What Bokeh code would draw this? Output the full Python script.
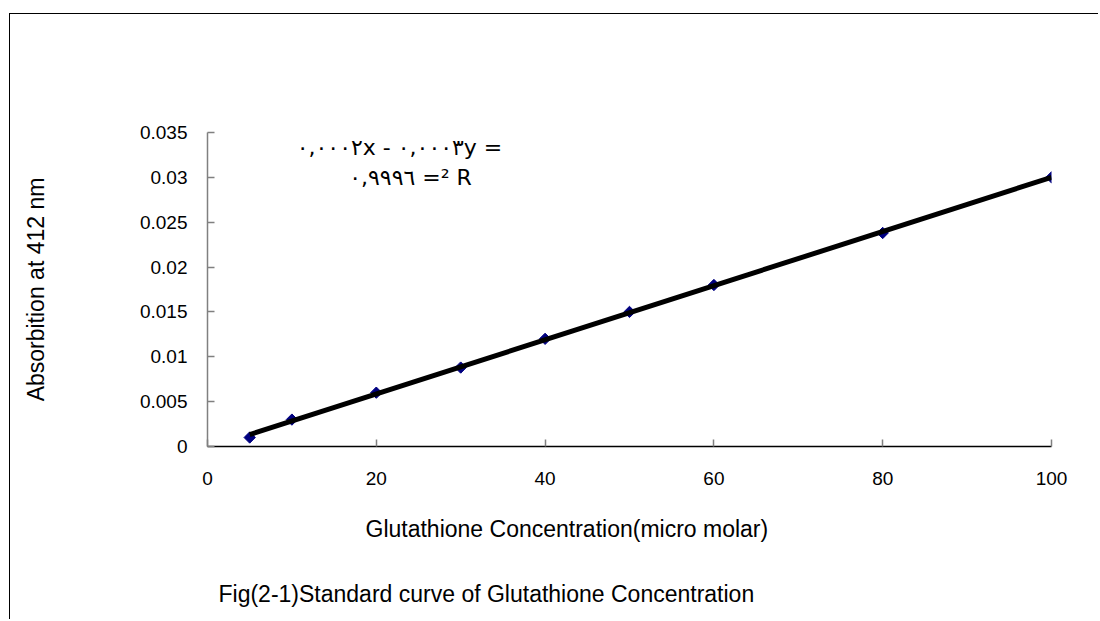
import numpy as np
from bokeh.plotting import figure
from bokeh.models import Range1d, FixedTicker, Label, Title
from bokeh.embed import file_html
from bokeh.resources import INLINE

# ---- data ----
concentration = [5, 10, 20, 30, 40, 50, 60, 80, 100]
absorbance = [0.001, 0.003, 0.006, 0.0088, 0.012, 0.015, 0.018, 0.0238, 0.030]
x_ticks = [0, 20, 40, 60, 80, 100]
y_ticks = [0, 0.005, 0.01, 0.015, 0.02, 0.025, 0.03, 0.035]
y_tick_labels = ["0", "0.005", "0.01", "0.015", "0.02", "0.025", "0.03", "0.035"]
equation_line1 = "٠,٠٠٠٢x - ٠,٠٠٠٣y ="
equation_line2 = "٠,٩٩٩٦ =² R"
x_title = "Glutathione Concentration(micro molar)"
y_title = "Absorbition at 412 nm"
caption = "Fig(2-1)Standard curve of Glutathione Concentration"

FONT = "Liberation Sans"
FS_TICK = "19px"
FS_TITLE = "23px"

p = figure(width=1089, height=606, output_backend="svg", toolbar_location=None,
           x_range=Range1d(0, 100), y_range=Range1d(0, 0.035),
           min_border_left=197, min_border_right=48, min_border_top=118,
           min_border_bottom=174,
           styles={"margin-left": "9px", "margin-top": "13px",
                   "border-left": "1.5px solid black",
                   "border-top": "1.5px solid black"})
p.outline_line_color = None
p.background_fill_color = "white"
p.border_fill_color = "white"
p.xgrid.visible = False
p.ygrid.visible = False

for ax in (p.xaxis[0], p.yaxis[0]):
    ax.major_label_text_font = FONT
    ax.major_label_text_font_size = FS_TICK
    ax.major_label_text_color = "black"
    ax.major_tick_in = 7
    ax.major_tick_out = 0
    ax.minor_tick_line_color = None
    ax.major_tick_line_color = "#808080"
    ax.major_tick_line_width = 1.5

p.xaxis[0].ticker = FixedTicker(ticks=x_ticks)
p.xaxis[0].axis_line_color = "black"
p.xaxis[0].axis_line_width = 1.5
p.xaxis[0].major_label_standoff = 25

p.yaxis[0].ticker = FixedTicker(ticks=y_ticks)
p.yaxis[0].major_label_overrides = {t: s for t, s in zip(y_ticks, y_tick_labels)}
p.yaxis[0].axis_line_color = "#808080"
p.yaxis[0].axis_line_width = 1.5
p.yaxis[0].major_label_standoff = 20
p.yaxis[0].axis_label = y_title
p.yaxis[0].axis_label_text_font = FONT
p.yaxis[0].axis_label_text_font_size = FS_TITLE
p.yaxis[0].axis_label_text_font_style = "normal"
p.yaxis[0].axis_label_text_color = "black"
p.yaxis[0].axis_label_standoff = 88

# titles below the x axis
p.add_layout(Title(text=x_title, align="left", offset=158, standoff=56,
                   vertical_align="top",
                   text_font=FONT, text_font_size=FS_TITLE, text_font_style="normal",
                   text_color="black"), "below")
p.add_layout(Title(text=caption, align="left", offset=11, standoff=19,
                   vertical_align="top",
                   text_font=FONT, text_font_size=FS_TITLE, text_font_style="normal",
                   text_color="black"), "below")

# data points (diamonds)
p.scatter(concentration, absorbance, marker="square", angle=np.pi / 4, size=8,
          fill_color="#000080", line_color="#000080")

# linear trendline fitted to the data
slope, intercept = np.polyfit(concentration, absorbance, 1)
tx = [min(concentration), max(concentration)]
ty = [slope * v + intercept for v in tx]
p.line(tx, ty, line_color="black", line_width=5)

def lab(text, x, y):
    p.add_layout(Label(x=x, y=y, x_units="screen", y_units="screen", text=text,
                       text_align="center", text_baseline="middle",
                       text_font="DejaVu Sans", text_font_size="22px",
                       text_color="black"))

lab(equation_line1, 192, 299)
lab(equation_line2, 203, 269)

open("out.html", "w").write(file_html(p, INLINE))
